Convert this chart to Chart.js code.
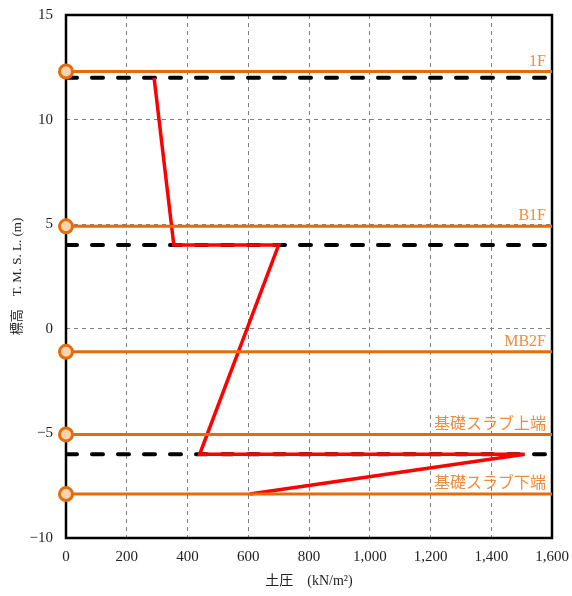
<!DOCTYPE html>
<html>
<head>
<meta charset="utf-8">
<script src="https://cdn.jsdelivr.net/npm/chart.js@4"></script>
<style>
html,body{margin:0;padding:0;background:#fff;}
#wrap{width:572px;height:596px;}
</style>
</head>
<body>
<div id="wrap"><canvas id="c" width="572" height="596"></canvas></div>
<script>
// ---- data ----
const floorNames = ['1F', 'B1F', 'MB2F', '基礎スラブ上端', '基礎スラブ下端'];
const floorLevels = [12.3, 4.9, -1.1, -5.05, -7.9];
const groundLevels = [12.0, 4.0, -6.0];
const pressureX = [290, 355, 700, 440, 1510, 605];
const pressureY = [12.0, 4.0, 4.0, -6.0, -6.0, -7.9];
const xRange = [0, 1600];
const yRange = [-10, 15];

const ORANGE = '#E46C0A';
const LABEL_ORANGE = '#EE8C3E';
const FONT = "'Liberation Serif', 'Noto Sans CJK JP', serif";

const datasets = [];
floorLevels.forEach((lv, i) => {
  datasets.push({
    label: floorNames[i],
    data: [{x: xRange[0], y: lv}, {x: xRange[1], y: lv}],
    showLine: true,
    borderColor: ORANGE,
    borderWidth: 3,
    pointRadius: [6.5, 0],
    pointBackgroundColor: '#FBD3B0',
    pointBorderColor: ORANGE,
    pointBorderWidth: 3,
    clip: false
  });
});
datasets.push({
  label: 'pressure',
  data: pressureX.map((x, i) => ({x: x, y: pressureY[i]})),
  showLine: true,
  borderColor: '#FF0000',
  borderWidth: 3.5,
  pointRadius: 0,
  borderJoinStyle: 'miter'
});
groundLevels.forEach(lv => {
  datasets.push({
    label: 'level',
    data: [{x: xRange[0], y: lv}, {x: xRange[1], y: lv}],
    showLine: true,
    borderColor: '#000000',
    borderWidth: 4,
    borderDash: [11, 15],
    borderCapStyle: 'round',
    pointRadius: 0
  });
});

const framePlugin = {
  id: 'frame',
  beforeDatasetsDraw(chart) {
    const {ctx, chartArea: a} = chart;
    ctx.save();
    ctx.strokeStyle = '#000';
    ctx.lineWidth = 2.5;
    ctx.strokeRect(a.left, a.top, a.right - a.left, a.bottom - a.top);
    ctx.restore();
  },
  afterDatasetsDraw(chart) {
    const {ctx, scales} = chart;
    const xs = scales.x, ys = scales.y;
    ctx.save();
    ctx.font = "16px " + FONT;
    ctx.fillStyle = LABEL_ORANGE;
    ctx.textAlign = 'right';
    ctx.textBaseline = 'bottom';
    floorLevels.forEach((lv, i) => {
      ctx.fillText(floorNames[i], xs.getPixelForValue(xRange[1]) - 6, ys.getPixelForValue(lv) - 2);
    });
    ctx.restore();
  }
};

function zeroPad(s) {
  s.paddingTop = 0; s.paddingBottom = 0; s.paddingLeft = 0; s.paddingRight = 0;
}

new Chart(document.getElementById('c'), {
  type: 'scatter',
  data: {datasets},
  options: {
    responsive: false,
    animation: false,
    devicePixelRatio: 1,
    layout: {padding: {top: 15, right: 20, left: 0, bottom: 0}},
    plugins: {legend: {display: false}, tooltip: {enabled: false}},
    scales: {
      x: {
        type: 'linear',
        min: xRange[0], max: xRange[1],
        afterFit(s) { s.height = 58; zeroPad(s); },
        ticks: {
          stepSize: 200, color: '#222', padding: 10,
          font: {family: FONT, size: 15},
          callback: v => v.toLocaleString('en-US')
        },
        grid: {color: '#808080', lineWidth: 1, drawTicks: false},
        border: {display: false, dash: [4, 4]},
        title: {
          display: true, text: '土圧　(kN/m²)', color: '#222',
          font: {family: FONT, size: 14}, padding: {top: 0, bottom: 6}
        }
      },
      y: {
        type: 'linear',
        min: yRange[0], max: yRange[1],
        afterFit(s) { s.width = 66; zeroPad(s); },
        ticks: {
          stepSize: 5, color: '#222', padding: 13,
          font: {family: FONT, size: 15},
          callback: v => (v < 0 ? '\u2212' + Math.abs(v) : String(v))
        },
        grid: {color: '#808080', lineWidth: 1, drawTicks: false},
        border: {display: false, dash: [4, 4]},
        title: {
          display: true, text: '標高　T. M. S. L. (m)', color: '#222',
          font: {family: FONT, size: 13}, padding: {top: 10, bottom: 0}
        }
      }
    }
  },
  plugins: [framePlugin]
});
</script>
</body>
</html>
